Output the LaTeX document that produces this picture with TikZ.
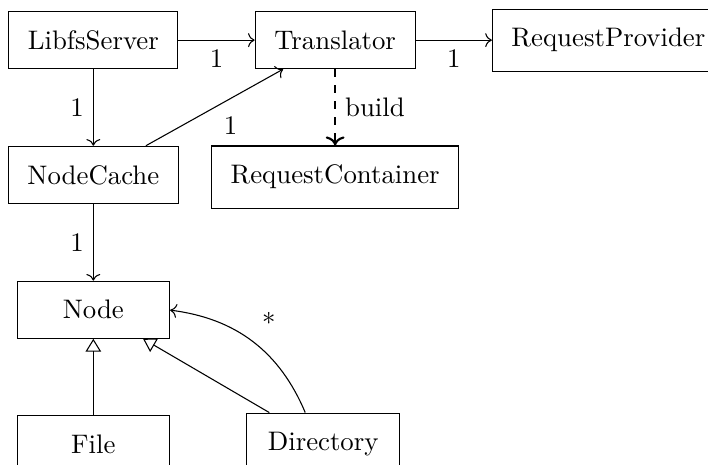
\documentclass[tikz,border=0pt]{standalone}
\usetikzlibrary{positioning,arrows.meta}
\tikzset{
  class/.style={draw, inner sep=0.25cm, minimum width=2cm},
  inherit/.style={-{Triangle[open, length=4.8pt, width=5.8pt]}},
}
\begin{document}
\begin{tikzpicture}[node distance=1cm]
  \useasboundingbox (-1.224,0.526) rectangle (8.06,-5.566);
  \node[class] (libfs) {LibfsServer};
  \node[class, right=of libfs] (translator) {Translator};
  \node[class, right=of translator] (provider) {RequestProvider};
  \node[class, below=of libfs] (cache) {NodeCache};
  \node[class, below=of translator] (container) {RequestContainer};
  \node[class, below=of cache] (node) {Node};
  \node[class, below=of node] (file) {File};
  \node[class, right=of file] (dir) {Directory};
  \begin{scope}[->]
    \draw (libfs) -- node[below] {1} (translator);
    \draw (translator) -- node[below] {1} (provider);
    \draw (libfs) -- node[left] {1} (cache);
    \draw (cache) -- node[below right] {1} (translator);
    \draw (cache) -- node[left] {1} (node);
    \draw[thick, dashed] (translator) -- node[right] {build} (container);
    \draw (dir) to[bend right] node[above right] {*} (node);
  \end{scope}
  \draw[inherit] (file) -- (node);
  \draw[inherit] (dir) -- (node);
\end{tikzpicture}
\end{document}
